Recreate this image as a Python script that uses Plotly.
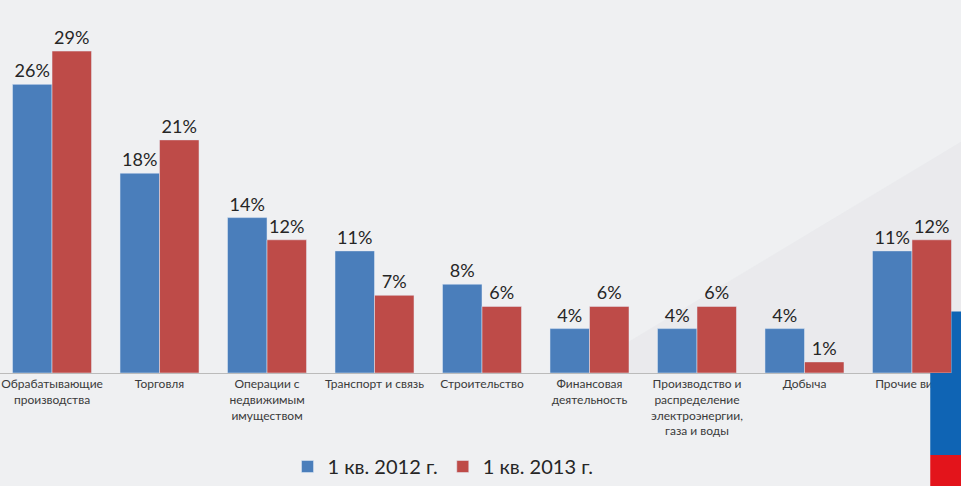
import plotly.graph_objects as go

categories = [
    "Обрабатывающие<br>производства",
    "Торговля",
    "Операции с<br>недвижимым<br>имуществом",
    "Транспорт и связь",
    "Строительство",
    "Финансовая<br>деятельность",
    "Производство и<br>распределение<br>электроэнергии,<br>газа и воды",
    "Добыча",
    "Прочие виды",
]
series_2012 = [26, 18, 14, 11, 8, 4, 4, 4, 11]
series_2013 = [29, 21, 12, 7, 6, 6, 6, 1, 12]
name_2012 = "1 кв. 2012 г."
name_2013 = "1 кв. 2013 г."

FONT = "Lato, 'Open Sans', sans-serif"

fig = go.Figure()
fig.add_trace(go.Bar(
    x=categories, y=series_2012, name=name_2012,
    marker=dict(color="#4A7EBB"),
    text=[f"{v}%" for v in series_2012], textposition="outside",
    textfont=dict(size=18, color="#262626", family=FONT),
    cliponaxis=False,
))
fig.add_trace(go.Bar(
    x=categories, y=series_2013, name=name_2013,
    marker=dict(color="#BE4B48"),
    text=[f"{v}%" for v in series_2013], textposition="outside",
    textfont=dict(size=18, color="#262626", family=FONT),
    cliponaxis=False,
))

shapes = [
    # faint diagonal background band
    dict(type="path", xref="paper", yref="paper",
         path="M 0.6 0 L 1.0 0.62 L 1.0 0.0 Z",
         fillcolor="rgba(200,200,205,0.12)", line=dict(width=0), layer="below"),
    # flag strip on the right
    dict(type="rect", xref="paper", yref="paper", x0=0.99, x1=1.02, y0=0, y1=0.165,
         fillcolor="#0F64B4", line=dict(width=0), layer="above"),
    dict(type="rect", xref="paper", yref="paper", x0=0.968, x1=1.02, y0=-0.22, y1=0,
         fillcolor="#0F64B4", line=dict(width=0), layer="above"),
    dict(type="rect", xref="paper", yref="paper", x0=0.968, x1=1.02, y0=-0.31, y1=-0.22,
         fillcolor="#E3141B", line=dict(width=0), layer="above"),
]

fig.update_layout(
    width=961, height=486,
    margin=dict(l=0, r=0, t=0, b=113),
    paper_bgcolor="#EFF0F2",
    plot_bgcolor="rgba(0,0,0,0)",
    barmode="group", bargap=0.265, bargroupgap=0,
    font=dict(family=FONT, color="#333333"),
    shapes=shapes,
    showlegend=True,
    legend=dict(orientation="h", x=0.461, xanchor="center", y=-0.252, yanchor="middle",
                font=dict(size=20, color="#262626", family=FONT),
                bgcolor="rgba(0,0,0,0)", itemwidth=30, traceorder="normal"),
)
fig.update_xaxes(range=[-0.484, 8.456], showline=True, linecolor="#BBBBBB", linewidth=1,
                 ticks="", tickfont=dict(size=12, color="#3A3A3A", family=FONT),
                 showgrid=False)
fig.update_yaxes(range=[0, 33.6], visible=False, showgrid=False, zeroline=False)

fig.write_html("out.html")
